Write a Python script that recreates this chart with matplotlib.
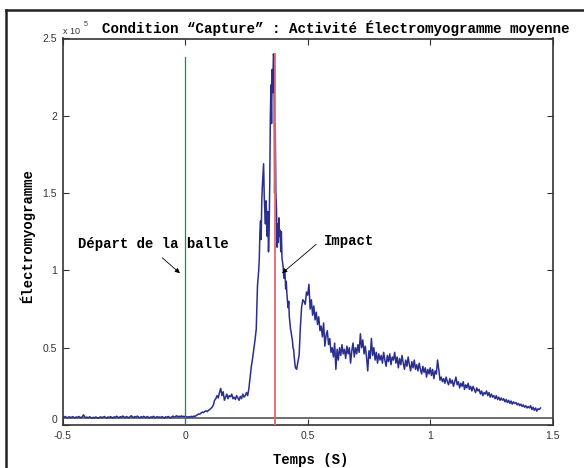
import numpy as np
import matplotlib
matplotlib.use("Agg")
import matplotlib.pyplot as plt
from matplotlib.lines import Line2D

# EMG trace in units of 1e5, three sampled segments
pre_t = np.arange(-0.5, 0.2999, 0.005)
pre_v = [
    0.052, 0.049, 0.055, 0.050, 0.047, 0.053, 0.051, 0.048, 0.054, 0.050,
    0.046, 0.052, 0.049, 0.055, 0.051, 0.047, 0.053, 0.066, 0.052, 0.048,
    0.051, 0.047, 0.053, 0.049, 0.045, 0.050, 0.046, 0.052, 0.048, 0.044,
    0.049, 0.053, 0.047, 0.051, 0.055, 0.049, 0.046, 0.052, 0.048, 0.054,
    0.050, 0.046, 0.053, 0.049, 0.057, 0.051, 0.047, 0.054, 0.050, 0.058,
    0.052, 0.048, 0.055, 0.051, 0.047, 0.053, 0.060, 0.052, 0.049, 0.055,
    0.051, 0.058, 0.050, 0.047, 0.054, 0.049, 0.056, 0.052, 0.048, 0.055,
    0.050, 0.046, 0.053, 0.049, 0.056, 0.051, 0.047, 0.054, 0.050, 0.052,
    0.048, 0.054, 0.050, 0.046, 0.053, 0.049, 0.055, 0.051, 0.047, 0.052,
    0.058, 0.050, 0.055, 0.060, 0.052, 0.057, 0.053, 0.059, 0.054, 0.056,
    0.052, 0.055, 0.050, 0.054, 0.051, 0.056, 0.053, 0.058, 0.055, 0.062,
    0.066, 0.072, 0.070, 0.078, 0.084, 0.080, 0.088, 0.092, 0.086, 0.095,
    0.100, 0.108, 0.115, 0.130, 0.160, 0.170, 0.190, 0.175, 0.210, 0.237,
    0.190, 0.215, 0.160, 0.180, 0.200, 0.170, 0.190, 0.183, 0.200, 0.170,
    0.180, 0.165, 0.190, 0.175, 0.160, 0.185, 0.170, 0.200, 0.180, 0.190,
    0.210, 0.190, 0.237, 0.310, 0.380, 0.430, 0.490, 0.550, 0.620, 0.900,
]
peak_t = np.arange(0.3, 0.4499, 0.0025)
peak_v = [
    1.00, 1.08, 1.25, 1.32, 1.20, 1.45, 1.55, 1.62, 1.69, 1.48,
    1.38, 1.30, 1.45, 1.35, 1.22, 1.38, 1.12, 1.25, 1.55, 1.99,
    2.20, 1.95, 2.30, 2.15, 2.40, 2.38, 1.50, 1.95, 1.50, 1.40,
    1.15, 1.30, 1.18, 1.34, 1.22, 1.26, 1.12, 1.25, 1.08, 1.05,
    1.02, 0.95, 1.00, 0.98, 0.88, 0.93, 0.85, 0.80, 0.76, 0.80,
    0.70, 0.66, 0.62, 0.60, 0.57, 0.55, 0.50, 0.49, 0.44, 0.40,
]
post_t = np.arange(0.45, 1.4501, 0.005)
post_v = [
    0.37, 0.36, 0.41, 0.45, 0.63, 0.76, 0.81, 0.80, 0.78, 0.86,
    0.84, 0.91, 0.75, 0.81, 0.71, 0.77, 0.68, 0.73, 0.65, 0.70,
    0.61, 0.64, 0.57, 0.66, 0.51, 0.58, 0.61, 0.52, 0.56, 0.47,
    0.50, 0.44, 0.53, 0.36, 0.49, 0.42, 0.50, 0.45, 0.52, 0.46,
    0.49, 0.43, 0.51, 0.46, 0.50, 0.40, 0.48, 0.53, 0.44, 0.50,
    0.46, 0.52, 0.47, 0.59, 0.50, 0.55, 0.46, 0.51, 0.44, 0.35,
    0.48, 0.43, 0.56, 0.45, 0.50, 0.42, 0.47, 0.40, 0.46, 0.42,
    0.45, 0.40, 0.47, 0.42, 0.38, 0.45, 0.41, 0.46, 0.39, 0.44,
    0.42, 0.47, 0.40, 0.44, 0.37, 0.43, 0.39, 0.45, 0.40, 0.36,
    0.42, 0.38, 0.44, 0.39, 0.35, 0.41, 0.37, 0.42, 0.36, 0.39,
    0.35, 0.40, 0.36, 0.33, 0.38, 0.34, 0.37, 0.31, 0.36, 0.33,
    0.37, 0.32, 0.36, 0.30, 0.35, 0.33, 0.42, 0.36, 0.29, 0.31,
    0.28, 0.30, 0.27, 0.31, 0.28, 0.26, 0.30, 0.27, 0.29, 0.25,
    0.28, 0.31, 0.26, 0.28, 0.24, 0.27, 0.25, 0.28, 0.23, 0.26,
    0.24, 0.27, 0.23, 0.25, 0.22, 0.25, 0.23, 0.21, 0.24, 0.22,
    0.23, 0.20, 0.22, 0.19, 0.21, 0.20, 0.22, 0.19, 0.21, 0.18,
    0.20, 0.18, 0.19, 0.17, 0.19, 0.165, 0.18, 0.16, 0.175, 0.16,
    0.17, 0.15, 0.165, 0.145, 0.16, 0.14, 0.155, 0.135, 0.15, 0.14,
    0.145, 0.13, 0.14, 0.125, 0.135, 0.12, 0.13, 0.115, 0.125, 0.11,
    0.12, 0.11, 0.125, 0.10, 0.115, 0.095, 0.11, 0.09, 0.105, 0.10,
    0.11,
]

baseline = 0.045
depart_t = 0.0
depart_top = 2.38
impact_t = 0.367
impact_top = 2.40

xticks = [-0.5, 0, 0.5, 1, 1.5]
xticklabels = ["-0.5", "0", "0.5", "1", "1.5"]
yticks = [0, 0.5, 1, 1.5, 2, 2.5]
yticklabels = ["0", "0.5", "1", "1.5", "2", "2.5"]

t = np.concatenate([pre_t, peak_t, post_t])
v = np.concatenate([pre_v, peak_v, post_v])

mono = "Liberation Mono"
sans = "Liberation Sans"

fig = plt.figure(figsize=(5.84, 4.68), dpi=100)
ax = fig.add_axes([62.7 / 584, 43 / 468, 490 / 584, 386.5 / 468])

ax.axhline(baseline, color="#6e6e6e", lw=1.4, zorder=1)
ax.plot(t, v, color="#2a2f8e", lw=1.1, zorder=2)
ax.plot([depart_t, depart_t], [0, depart_top], color="#23894a", lw=0.9, zorder=3)
ax.plot([impact_t, impact_t], [0, impact_top], color="#e8666c", lw=1.3, zorder=3)

ax.set_xlim(-0.5, 1.5)
ax.set_ylim(0, 2.5)
ax.set_xticks(xticks)
ax.set_xticklabels(xticklabels)
ax.set_yticks(yticks)
ax.set_yticklabels(yticklabels)
ax.tick_params(direction="in", top=True, right=True, length=4, width=0.8,
               labelsize=7.5, colors="#333333")
ax.tick_params(axis="x", pad=4.5)
ax.tick_params(axis="y", pad=4)
for lab in ax.get_xticklabels() + ax.get_yticklabels():
    lab.set_family(sans)
ax.get_yticklabels()[0].set_va("bottom")
for sp in ax.spines.values():
    sp.set_linewidth(1.2)
    sp.set_color("#333333")

# annotations
ax.text(-0.436, 1.169, "Départ de la balle", family=mono, weight="bold",
        fontsize=10, va="center", ha="left")
ax.annotate("", xy=(-0.013, 0.97), xytext=(-0.102, 1.093),
            arrowprops=dict(arrowstyle="-|>", color="k", lw=0.6, mutation_scale=7))
ax.text(0.568, 1.19, "Impact", family=mono, weight="bold",
        fontsize=10, va="center", ha="left")
ax.annotate("", xy=(0.387, 0.97), xytext=(0.543, 1.18),
            arrowprops=dict(arrowstyle="-|>", color="k", lw=0.6, mutation_scale=7))

fig.text(336 / 584, 1 - 28 / 468, "Condition “Capture” : Activité Électromyogramme moyenne",
         family=mono, weight="bold", fontsize=10.3, ha="center", va="center")
fig.text(63 / 584, 1 - 31 / 468, "x 10", family=sans, fontsize=6.5, color="#333333",
         ha="left", va="center")
fig.text(83.5 / 584, 1 - 25 / 468, "5", family=sans, fontsize=5, color="#333333",
         ha="left", va="center")
fig.text(311 / 584, 1 - 460 / 468, "Temps (S)", family=mono, weight="bold",
         fontsize=10, ha="center", va="center")
fig.text(27 / 584, 1 - 236 / 468, "Électromyogramme", family=mono, weight="bold",
         fontsize=10, ha="center", va="center", rotation=90)

# window frame (top and left edges)
fig.add_artist(Line2D([6 / 584, 1], [1 - 10 / 468, 1 - 10 / 468],
                      transform=fig.transFigure, color="#222222", lw=1.8))
fig.add_artist(Line2D([6 / 584, 6 / 584], [0, 1 - 10 / 468],
                      transform=fig.transFigure, color="#222222", lw=1.8))

fig.savefig("out.png", dpi=100)
